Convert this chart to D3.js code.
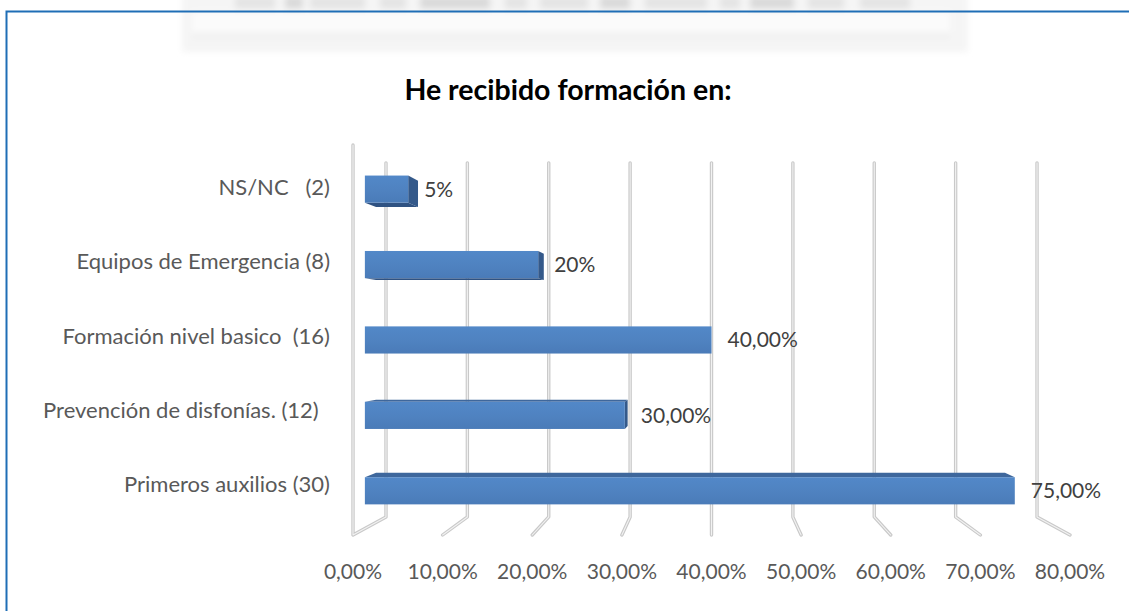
<!DOCTYPE html>
<html>
<head>
<meta charset="utf-8">
<script src="https://cdn.jsdelivr.net/npm/d3@7"></script>
<style>
  html, body { margin: 0; padding: 0; background: #ffffff; }
  svg { display: block; }
  text { font-family: Lato, "Open Sans", sans-serif; white-space: pre; }
</style>
</head>
<body>
<svg id="chart" width="1129" height="611"></svg>
<script>
// ---- data ----
const title = "He recibido formación en:";
const categories = [
  "NS/NC   (2)",
  "Equipos de Emergencia (8)",
  "Formación nivel basico  (16)",
  "Prevención de disfonías. (12)  ",
  "Primeros auxilios (30)"
];
const values = [5, 20, 40, 30, 75];
const valueLabels = ["5%", "20%", "40,00%", "30,00%", "75,00%"];
const tickValues = [0, 10, 20, 30, 40, 50, 60, 70, 80];
const tickLabels = ["0,00%", "10,00%", "20,00%", "30,00%", "40,00%", "50,00%", "60,00%", "70,00%", "80,00%"];

// ---- layout ----
const W = 1129, H = 611;
const svg = d3.select("#chart");

const x = d3.scaleLinear().domain([0, 80]).range([353, 1070]);      // front plane
const y = d3.scaleBand().domain(categories).range([145, 535])
  .paddingInner(0.64).paddingOuter(0.32);                             // front plane
const labelY = d3.scalePoint().domain(categories).range([195, 492]);  // label baselines

const VP = [x(40), 339];   // vanishing point
const K = 0.092;           // depth shrink at back wall
const proj = (px, py, t) => {
  const s = 1 - K * t;
  return [VP[0] + s * (px - VP[0]), VP[1] + s * (py - VP[1])];
};
const T0 = 0.36, T1 = 0.70; // bar depth range

const defs = svg.append("defs");
const blur = defs.append("filter").attr("id", "blur").attr("x", "-10%").attr("y", "-50%")
  .attr("width", "120%").attr("height", "200%");
blur.append("feGaussianBlur").attr("stdDeviation", 3);

const grad = defs.append("linearGradient").attr("id", "front")
  .attr("x1", "0").attr("x2", "0").attr("y1", "0").attr("y2", "1");
grad.append("stop").attr("offset", "0%").attr("stop-color", "#5288c8");
grad.append("stop").attr("offset", "55%").attr("stop-color", "#4f82c0");
grad.append("stop").attr("offset", "100%").attr("stop-color", "#4a7bb8");

// ---- faint watermark at top (scanned page background, decorative) ----
const wm = svg.append("g").attr("filter", "url(#blur)");
wm.append("rect").attr("x", 182).attr("y", -6).attr("width", 786).attr("height", 58).attr("fill", "#f5f5f5");
wm.append("rect").attr("x", 192).attr("y", 12).attr("width", 758).attr("height", 22).attr("fill", "#fbfbfb");
wm.append("rect").attr("x", 192).attr("y", 33).attr("width", 758).attr("height", 5).attr("fill", "#efefef");
const wmBlocks = [[235,40],[285,18],[310,55],[380,26],[420,70],[505,22],[540,48],[600,30],[645,62],[720,20],[750,44],[808,36],[860,50]];
wmBlocks.forEach(([bx, bw], i) => {
  wm.append("rect").attr("x", bx).attr("y", -4).attr("width", bw).attr("height", 13)
    .attr("fill", i % 3 === 1 ? "#dadada" : "#e4e4e4");
});

// ---- frame ----
svg.append("path").attr("d", `M${W},11.5 H6.5 V${H}`)
  .attr("fill", "none").attr("stroke", "#1f6eb6").attr("stroke-width", 2);

// ---- title ----
svg.append("text").attr("x", 568).attr("y", 100).attr("text-anchor", "middle")
  .attr("font-size", 28.5).attr("font-weight", "bold").attr("fill", "#000")
  .text(title);

// ---- gridlines (back wall + floor), pipe style ----
const line = d3.line();
const gridPaths = tickValues.map(v => {
  const pts = [proj(x(v), 145, 1), proj(x(v), 535, 1), proj(x(v), 535, 0)];
  if (v === 0) pts.push(proj(x(v), 145, 0));
  return pts;
});
const g = svg.append("g");
g.selectAll("path.outer").data(gridPaths).join("path").attr("class", "outer")
  .attr("d", line).attr("fill", "none").attr("stroke", "#c9c9c9")
  .attr("stroke-width", 3.4).attr("stroke-linejoin", "round").attr("stroke-linecap", "round");
g.selectAll("path.inner").data(gridPaths).join("path").attr("class", "inner")
  .attr("d", line).attr("fill", "none").attr("stroke", "#f2f2f2")
  .attr("stroke-width", 1.1).attr("stroke-linejoin", "round").attr("stroke-linecap", "round");

// ---- 3D bars ----
const poly = pts => "M" + pts.map(p => p.join(",")).join("L") + "Z";
const bars = svg.append("g");
categories.forEach((c, i) => {
  const v = values[i];
  const x0 = x(0), x1 = x(v);
  const yt = y(c), yb = y(c) + y.bandwidth();
  const bg = bars.append("g");
  if (yb < VP[1]) {
    bg.append("path").attr("d", poly([proj(x0, yb, T0), proj(x1, yb, T0), proj(x1, yb, T1), proj(x0, yb, T1)]))
      .attr("fill", "#2f5282");
  } else if (yt > VP[1]) {
    bg.append("path").attr("d", poly([proj(x0, yt, T0), proj(x1, yt, T0), proj(x1, yt, T1), proj(x0, yt, T1)]))
      .attr("fill", "#3e679c");
  }
  if (x1 < VP[0] - 1) {
    bg.append("path").attr("d", poly([proj(x1, yt, T0), proj(x1, yt, T1), proj(x1, yb, T1), proj(x1, yb, T0)]))
      .attr("fill", "#34598a");
  }
  const a = proj(x0, yt, T0), b = proj(x1, yb, T0);
  bg.append("rect").attr("x", a[0]).attr("y", a[1]).attr("width", b[0] - a[0]).attr("height", b[1] - a[1])
    .attr("fill", "url(#front)");
  svg.append("text").attr("x", b[0] + 16).attr("y", (a[1] + b[1]) / 2 + 7.5)
    .attr("font-size", 21).attr("fill", "#404040").text(valueLabels[i]);
});

// ---- category labels ----
svg.append("g").selectAll("text").data(categories).join("text")
  .attr("x", 330).attr("y", d => labelY(d)).attr("text-anchor", "end")
  .attr("font-size", 22).attr("fill", "#595959").text(d => d);

// ---- tick labels ----
svg.append("g").selectAll("text").data(tickValues).join("text")
  .attr("x", d => x(d)).attr("y", 579).attr("text-anchor", "middle")
  .attr("font-size", 21).attr("fill", "#595959").text((d, i) => tickLabels[i]);
</script>
</body>
</html>
